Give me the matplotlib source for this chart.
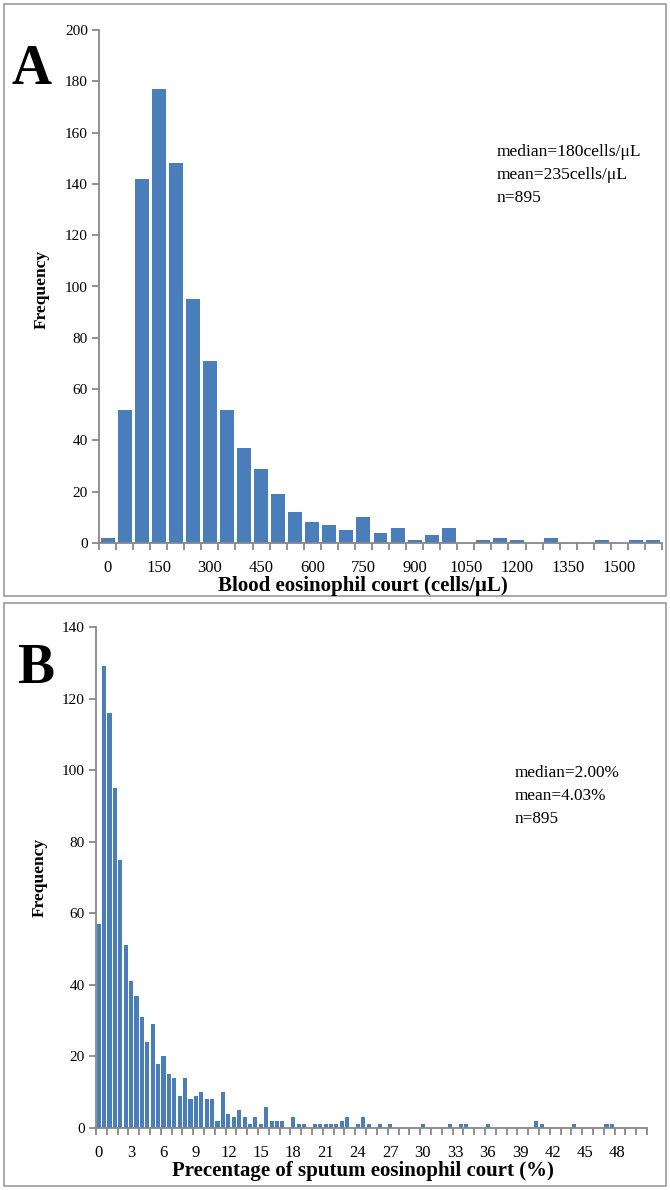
import matplotlib.pyplot as plt
import numpy as np
from matplotlib.patches import Rectangle

plt.rcParams['font.family'] = ['Liberation Serif', 'DejaVu Serif']

# Panel A: blood eosinophil count, one bar per 50 cells/uL bin (0 ... 1600)
blood_counts = [2, 52, 142, 177, 148, 95, 71, 52, 37, 29, 19, 12, 8, 7, 5, 10,
                4, 6, 1, 3, 6, 0, 1, 2, 1, 0, 2, 0, 0, 1, 0, 1, 1]
blood_ticklabels = ['0', '150', '300', '450', '600', '750', '900', '1050',
                    '1200', '1350', '1500']
blood_stats = ['median=180cells/\u03bcL', 'mean=235cells/\u03bcL', 'n=895']

# Panel B: sputum eosinophil percentage, one bar per 0.5 % bin (0 ... 50.5)
sputum_counts = [57, 129, 116, 95, 75, 51, 41, 37, 31, 24, 29, 18, 20, 15,
                 14, 9, 14, 8, 9, 10, 8, 8, 2, 10, 4, 3, 5, 3, 1, 3, 1, 6, 2, 2, 2,
                 0, 3, 1, 1, 0, 1, 1, 1, 1, 1, 2, 3, 0, 1, 3, 1,
                 0, 1, 0, 1, 0, 0, 0, 0, 0, 1, 0, 0, 0, 0, 1, 0, 1, 1, 0, 0, 0, 1,
                 0, 0, 0, 0, 0, 0, 0, 0, 2, 1, 0, 0, 0, 0, 0, 1, 0, 0, 0, 0, 0, 1, 1,
                 0, 0, 0, 0, 0, 0]
sputum_ticklabels = ['0', '3', '6', '9', '12', '15', '18', '21', '24', '27', '30',
                     '33', '36', '39', '42', '45', '48']
sputum_stats = ['median=2.00%', 'mean=4.03%', 'n=895']

BAR = '#4A7EBB'
GREY = '#888888'

W, H = 670, 1190
fig = plt.figure(figsize=(W / 100, H / 100), dpi=100)


def px_axes(left, top, right, bottom):
    return fig.add_axes([left / W, 1 - bottom / H, (right - left) / W, (bottom - top) / H])


def style(ax, ymax, ystep, n_bins, label_every, labels, minor_every):
    for s in ['top', 'right']:
        ax.spines[s].set_visible(False)
    for s in ['left', 'bottom']:
        ax.spines[s].set_color(GREY)
        ax.spines[s].set_linewidth(1.3)
    ax.set_ylim(0, ymax)
    ax.set_yticks(np.arange(0, ymax + 1, ystep))
    ax.set_xlim(-0.5, n_bins - 0.5)
    ax.set_xticks(np.arange(0, len(labels) * label_every, label_every))
    ax.set_xticklabels(labels)
    ax.set_xticks(np.arange(-0.5, n_bins, minor_every), minor=True)
    ax.tick_params(axis='x', which='major', length=0, pad=12, labelsize=12)
    ax.tick_params(axis='x', which='minor', length=5, width=1.3, color=GREY)
    ax.tick_params(axis='y', length=5, width=1.3, color=GREY, pad=3, labelsize=11)


# ---- panel A ----
axA = px_axes(99, 30, 662, 543)
axA.bar(np.arange(len(blood_counts)), blood_counts, width=0.82, color=BAR)
style(axA, 200, 20, len(blood_counts), 3, blood_ticklabels, 1)
fig.text(363 / W, 1 - 586 / H, 'Blood eosinophil court (cells/\u03bcL)',
         ha='center', va='center', fontsize=15, fontweight='bold')
fig.text(42 / W, 1 - 289 / H, 'Frequency', rotation=90, ha='center', va='center',
         fontsize=12.5, fontweight='bold')
fig.text(12 / W, 1 - 70 / H, 'A', ha='left', va='center', fontsize=40, fontweight='bold')
for i, s in enumerate(blood_stats):
    fig.text(497 / W, 1 - (152 + 23 * i) / H, s, ha='left', va='center', fontsize=12.6)

# ---- panel B ----
axB = px_axes(96, 627, 647, 1128)
axB.bar(np.arange(len(sputum_counts)), sputum_counts, width=0.76, color=BAR)
style(axB, 140, 20, len(sputum_counts), 6, sputum_ticklabels, 2)
fig.text(363 / W, 1 - 1171 / H, 'Precentage of sputum eosinophil court (%)',
         ha='center', va='center', fontsize=15, fontweight='bold')
fig.text(40 / W, 1 - 877 / H, 'Frequency', rotation=90, ha='center', va='center',
         fontsize=12.5, fontweight='bold')
fig.text(17 / W, 1 - 669 / H, 'B', ha='left', va='center', fontsize=40, fontweight='bold')
for i, s in enumerate(sputum_stats):
    fig.text(515 / W, 1 - (773 + 23 * i) / H, s, ha='left', va='center', fontsize=12.4)

# panel frames
for top, bottom in [(4, 596), (603, 1186)]:
    fig.patches.append(Rectangle((4 / W, 1 - bottom / H), 662 / W, (bottom - top) / H,
                                 transform=fig.transFigure, fill=False,
                                 edgecolor='#999999', linewidth=1.2))

fig.savefig('out.png', dpi=100)
